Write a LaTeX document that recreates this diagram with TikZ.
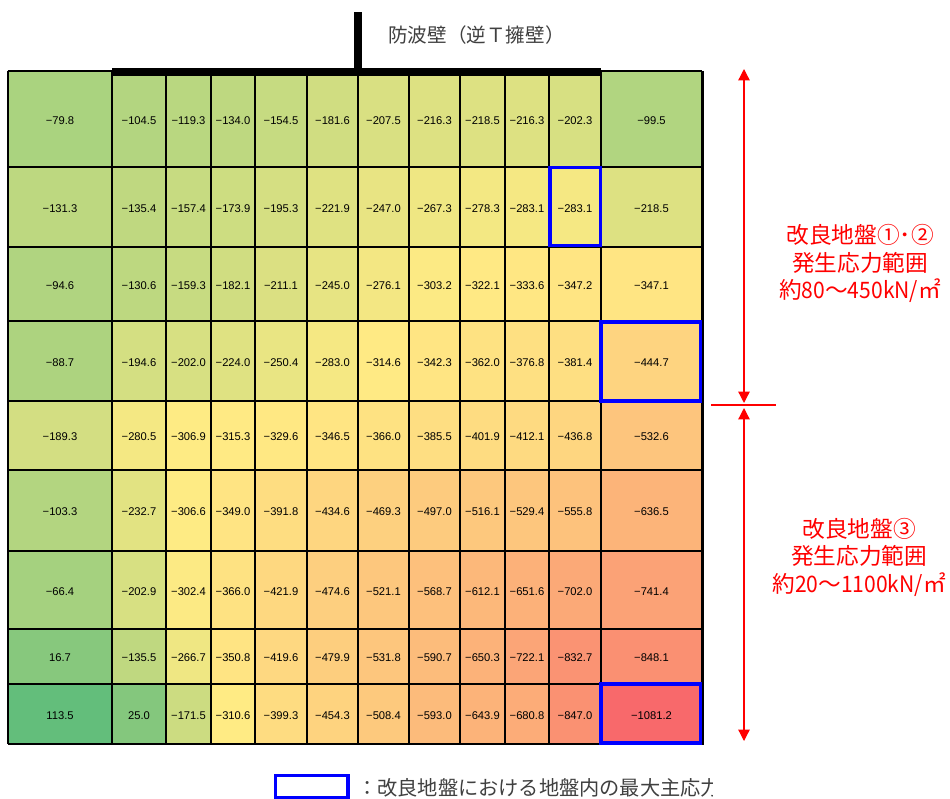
\documentclass[tikz,border=0pt]{standalone}
\usepackage{fontspec}
\setmainfont{Liberation Sans}
\newfontfamily\jp{Noto Sans CJK JP}
\newfontfamily\jpn[FakeStretch=0.93]{Noto Sans CJK JP}
\usetikzlibrary{arrows.meta}
\definecolor{cgreen}{RGB}{99,190,123}
\definecolor{cyellow}{RGB}{255,235,132}
\definecolor{cred}{RGB}{248,105,107}
\definecolor{wallink}{RGB}{0,0,0}
\definecolor{labelink}{RGB}{64,64,64}
\definecolor{rangered}{RGB}{255,0,0}
\definecolor{maxblue}{RGB}{0,0,255}
\def\stripminus-#1\relax{−#1}
\newcommand{\cellrow}[4]{%
  \foreach \v [count=\c from 0] in {#4} {
    \pgfmathsetmacro\xa{{8,112,166,211,255,307,358,409,460,505,549,601}[\c]}
    \pgfmathsetmacro\xb{{112,166,211,255,307,358,409,460,505,549,601,702}[\c]}
    \pgfmathsetmacro\isup{\v>=-310?1:0}
    \ifdim\isup pt>0.5pt
      \pgfmathsetmacro\pct{(\v+310)/423.5*100}
      \colorlet{cellc}{cgreen!\pct!cyellow}
    \else
      \pgfmathsetmacro\pct{(-310-\v)/771.2*100}
      \colorlet{cellc}{cred!\pct!cyellow}
    \fi
    \fill[cellc] (\xa,#2) rectangle (\xb,#3);
    \node[celltext] (cell-#1-\c) at ({(\xa+\xb)/2},{(#2+#3)/2+1.5})
      {\ifdim\v pt<0pt \expandafter\stripminus\v\relax\else\v\fi};
  }%
}
\tikzset{
  celltext/.style={inner sep=0pt,font=\fontsize{8.4pt}{10pt}\selectfont,text=black},
  thinrule/.style={line width=0.8pt,black},
  thickrule/.style={line width=2.2pt,black},
  midrule/.style={line width=1.4pt,black},
  maxbox/.style={draw=maxblue,line width=2.4pt},
  wall/.style={fill=wallink},
  rangearrow/.style={draw=rangered,line width=0.95pt,{Triangle[length=8.5pt,width=8.5pt]}-{Triangle[length=8.5pt,width=8.5pt]}},
  rangelabel/.style={align=center,text=rangered,inner sep=0pt,font=\jp\fontsize{17pt}{20.6pt}\selectfont},
  plainlabel/.style={text=labelink,inner sep=0pt,anchor=west,font=\jp\fontsize{14.7pt}{16pt}\selectfont},
}
\begin{document}
\begin{tikzpicture}[x=0.75pt,y=-0.75pt]
\useasboundingbox (0,0) rectangle (950,799);
\fill[white] (0,0) rectangle (950,799);
% cells
\cellrow{1}{71}{167}{-79.8,-104.5,-119.3,-134.0,-154.5,-181.6,-207.5,-216.3,-218.5,-216.3,-202.3,-99.5}
\cellrow{2}{167}{247}{-131.3,-135.4,-157.4,-173.9,-195.3,-221.9,-247.0,-267.3,-278.3,-283.1,-283.1,-218.5}
\cellrow{3}{247}{321}{-94.6,-130.6,-159.3,-182.1,-211.1,-245.0,-276.1,-303.2,-322.1,-333.6,-347.2,-347.1}
\cellrow{4}{321}{401}{-88.7,-194.6,-202.0,-224.0,-250.4,-283.0,-314.6,-342.3,-362.0,-376.8,-381.4,-444.7}
\cellrow{5}{401}{470}{-189.3,-280.5,-306.9,-315.3,-329.6,-346.5,-366.0,-385.5,-401.9,-412.1,-436.8,-532.6}
\cellrow{6}{470}{551}{-103.3,-232.7,-306.6,-349.0,-391.8,-434.6,-469.3,-497.0,-516.1,-529.4,-555.8,-636.5}
\cellrow{7}{551}{629}{-66.4,-202.9,-302.4,-366.0,-421.9,-474.6,-521.1,-568.7,-612.1,-651.6,-702.0,-741.4}
\cellrow{8}{629}{684}{16.7,-135.5,-266.7,-350.8,-419.6,-479.9,-531.8,-590.7,-650.3,-722.1,-832.7,-848.1}
\cellrow{9}{684}{744}{113.5,25.0,-171.5,-310.6,-399.3,-454.3,-508.4,-593.0,-643.9,-680.8,-847.0,-1081.2}
% horizontal rules
\foreach \y in {71,167,321,401,470,551,684} \draw[thinrule] (7.5,\y) -- (702,\y);
\foreach \y in {744} \draw[midrule,line width=1.1pt] (7.5,\y) -- (704,\y);
\foreach \y in {247} \draw[midrule] (7.5,\y) -- (702,\y);
\foreach \y in {629} \draw[midrule,line width=1.2pt] (7.5,\y) -- (702,\y);
% vertical rules
\foreach \x in {8,166,255,307,358,409,460,601} \draw[thinrule] (\x,71) -- (\x,744);
\foreach \x in {112,549} \draw[midrule,line width=1.1pt] (\x,71) -- (\x,744);
\foreach \x in {211,505,702.5} \draw[thickrule] (\x,71) -- (\x,744);
% wall
\fill[wall] (112,68) rectangle (601,76);
\fill[wall] (354,12) rectangle (362,68);
\node[plainlabel] (walllabel) at (388,35.5) {防波壁（逆Ｔ擁壁）};
% maximum markers
\draw[maxbox] (550,167.5) rectangle (600.5,245.5);
\draw[maxbox] (601,322) rectangle (700.5,401);
\draw[maxbox] (601,684) rectangle (700.5,743);
% range arrows
\coordinate (rtop) at (744,69);
\coordinate (rmidup) at (744,403);
\coordinate (rmiddown) at (744,408);
\coordinate (rbot) at (744,741);
\coordinate (tickl) at (711,405);
\coordinate (tickr) at (776,405);
\draw[rangearrow] (rtop) -- (rmidup);
\draw[rangearrow] (rmiddown) -- (rbot);
\draw[rangered,line width=0.95pt] (tickl) -- (tickr);
\node[rangelabel] (range1) at (860,263.5) {改良地盤①･②\\発生応力範囲\\約{\jpn 80}〜{\jpn 450kN/}㎡};
\node[rangelabel] (range2) at (859,557) {改良地盤③\\発生応力範囲\\約{\jpn 20}〜{\jpn 1100kN/}㎡};
% legend
\draw[maxbox] (275.5,775.5) rectangle (348,797.5);
\begin{scope}
\clip (355,770) rectangle (712,799);
\node[plainlabel,font=\jp\fontsize{15.15pt}{16pt}\selectfont] (legend) at (357,788) {：改良地盤における地盤内の最大主応力};
\end{scope}
\end{tikzpicture}
\end{document}
